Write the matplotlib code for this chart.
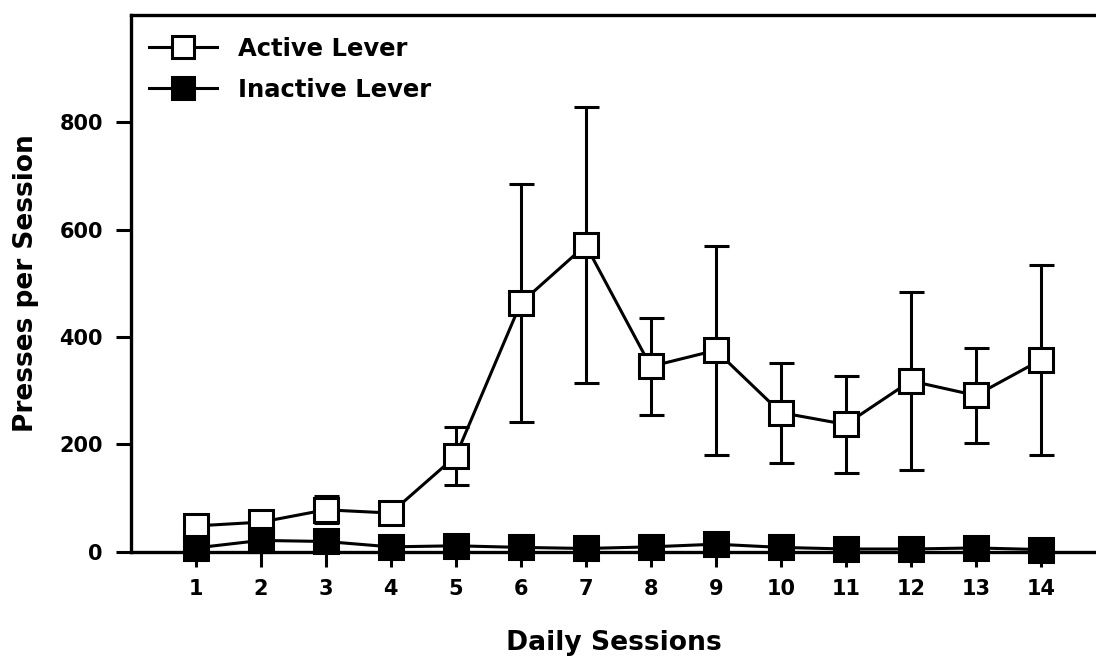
import matplotlib
matplotlib.use("Agg")
import matplotlib.pyplot as plt
from matplotlib.lines import Line2D
import numpy as np

sessions = np.arange(1, 15)
active = [48, 55, 78, 72, 178, 463, 571, 345, 375, 259, 237, 318, 291, 357]
active_err = [8, 15, 25, 15, 54, 221, 257, 90, 195, 93, 91, 166, 89, 177]
inactive = [7, 21, 19, 9, 11, 8, 6, 9, 14, 8, 5, 5, 7, 4]
inactive_err = [3, 5, 5, 3, 4, 3, 3, 3, 4, 3, 2, 2, 3, 2]

plt.rcParams['font.family'] = 'DejaVu Sans'
plt.rcParams['font.weight'] = 'bold'

fig = plt.figure(figsize=(10.96, 6.6), dpi=100)
ax = fig.add_axes([0.1193, 0.1641, 0.8896, 0.8136])

ms = 17
ax.errorbar(sessions, active, yerr=active_err, fmt='s-', color='k', mfc='w', mec='k',
            ms=ms, mew=2.2, lw=2.2, elinewidth=2.2, capsize=9, capthick=2.2,
            clip_on=False, zorder=3)
ax.errorbar(sessions, inactive, yerr=inactive_err, fmt='s-', color='k', mfc='k', mec='k',
            ms=ms, mew=2.2, lw=2.2, elinewidth=2.2, capsize=9, capthick=2.2,
            clip_on=False, zorder=4)

ax.set_xlim(0, 15)
ax.set_ylim(0, 1000)
ax.set_xticks(sessions)
ax.set_yticks([0, 200, 400, 600, 800])
ax.tick_params(axis='both', direction='out', length=11, width=2.2, labelsize=15, pad=9)
for lab in ax.get_xticklabels() + ax.get_yticklabels():
    lab.set_fontweight('bold')
for s in ax.spines.values():
    s.set_linewidth(2.4)

ax.set_xlabel('Daily Sessions', fontsize=19.2, fontweight='bold')
ax.set_ylabel('Presses per Session', fontsize=19, fontweight='bold')
ax.xaxis.set_label_coords(0.496, -0.1458)
ax.yaxis.set_label_coords(-0.0936, 0.5)

handles = [
    Line2D([], [], color='k', lw=2.2, marker='s', ms=ms - 1, mfc='w', mec='k', mew=2.2),
    Line2D([], [], color='k', lw=2.2, marker='s', ms=ms - 1, mfc='k', mec='k', mew=2.2),
]
leg = ax.legend(handles, ['Active Lever', 'Inactive Lever'], loc='upper left',
                bbox_to_anchor=(0.0188, 0.959), frameon=False,
                fontsize=17.5, handlelength=2.8, handletextpad=0.85, labelspacing=0.7,
                borderpad=0, borderaxespad=0)
for t in leg.get_texts():
    t.set_fontweight('bold')

fig.savefig('out.png', dpi=100)
